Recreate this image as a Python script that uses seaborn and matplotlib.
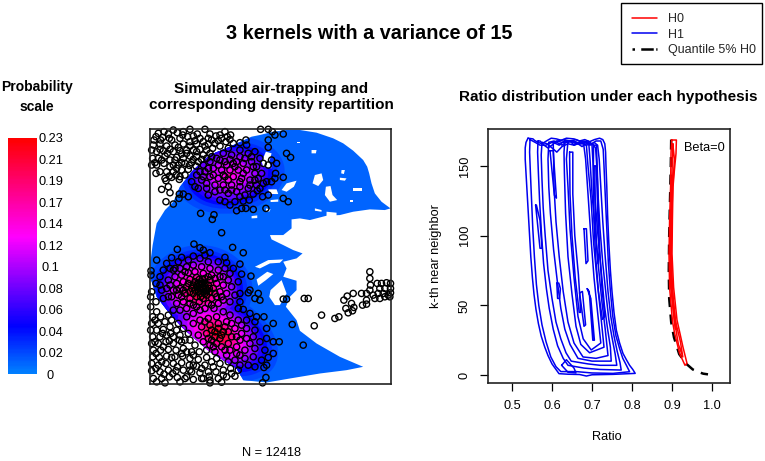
import numpy as np
import matplotlib
matplotlib.use("Agg")
import matplotlib.pyplot as plt
from matplotlib.colors import LinearSegmentedColormap
from matplotlib.lines import Line2D
from matplotlib.patches import Ellipse, Polygon, Rectangle
import seaborn as sns

# === Colour scale ===
scale_labels = ["0", "0.02", "0.04", "0.06", "0.08", "0.1", "0.12", "0.14", "0.17", "0.19", "0.21", "0.23"]
scale_max = 0.23

# === Middle panel in image units ===
lung_outline = [(335,50),(360,45),(400,35),(440,30),(480,30),(530,38),(580,55),(610,70),(640,92),(670,120),(682,140),(688,160),
                (695,190),(705,220),(725,245),(752,265),(735,270),(690,268),(640,275),(600,285),(560,287),(510,300),(480,295),
                (455,298),(455,325),(430,345),(390,345),(395,358),(430,375),(460,390),(488,400),(470,415),(430,425),
                (440,445),(430,470),(470,482),(470,510),(450,530),(438,560),(470,600),(480,632),(530,670),(600,710),
                (670,740),(620,750),(540,760),(450,775),(380,787),(310,780),(290,745),(210,695),(130,625),(85,575),
                (50,530),(30,470),(32,420),(38,375),(50,310),(75,270),(100,245),(120,200),(160,150),(210,105),(270,80)]
lung_holes = [
    [(378,95),(395,100),(388,125),(395,145),(370,140),(365,125)],
    [(515,90),(530,90),(528,100),(515,100)],
    [(525,165),(545,160),(550,180),(535,198),(518,190)],
    [(558,200),(572,198),(578,225),(592,240),(570,245),(555,225)],
    [(605,150),(615,150),(612,162),(604,160)],
    [(600,173),(620,175),(615,182),(600,180)],
    [(640,205),(665,205),(665,212),(640,212)],
    [(440,190),(470,182),(462,200),(440,215),(425,210)],
    [(385,208),(410,208),(415,222),(390,222)],
    [(392,240),(415,238),(415,245),(392,246)],
    [(560,275),(590,278),(590,290),(560,288)],
    [(335,288),(352,286),(352,294),(335,295)],
    [(378,265),(392,268),(388,275),(378,273)],
    [(345,440),(385,420),(430,418),(420,428),(390,430),(360,445)],
    [(350,478),(382,455),(400,462),(378,480),(355,497)],
    [(392,510),(425,480),(440,520),(420,555),(405,555),(388,530)],
    [(525,265),(545,270),(545,275),(525,272)],
    [(470,65),(480,65),(480,70),(470,70)],
    [(630,240),(640,240),(640,245),(630,245)],
]
level_values = [0.02, 0.03, 0.045, 0.06, 0.08, 0.1, 0.12, 0.14, 0.17, 0.2, 0.22]
top_kernel = dict(center=(270,165), axes=(165,115), angle=-8, radii=[1.0, 0.87, 0.78, 0.7, 0.62, 0.5, 0.36, 0.16, 0.04, 0, 0])
left_kernel = dict(center=(180,510), axes=(158,135), angle=0, radii=[1.0, 0.9, 0.82, 0.76, 0.7, 0.62, 0.55, 0.45, 0.33, 0.22, 0.12])
low_kernel = dict(center=(235,640), axes=(195,120), angle=30, radii=[1.0, 0.9, 0.82, 0.75, 0.68, 0.6, 0.52, 0.42, 0.3, 0.2, 0.1])

pts_top_white = [(55,40),(72,35),(48,50),(68,52),(85,42),(100,30),(112,38),(130,35),(150,28),(172,42),(195,28),(210,42),
    (228,48),(255,35),(272,45),(180,55),(160,48),(120,55),(95,60),(40,75),(60,72),(80,78),(35,90),(50,95),(105,75),(130,72),
    (150,65),(170,72),(190,65),(205,72),(225,70),(245,55),(258,65),(280,70),(300,68),(100,95),(120,92),(140,90),(160,90),
    (180,88),(200,90),(218,85),(240,78),(38,115),(55,115),(75,108),(90,120),(110,112),(130,115),(150,108),(170,110),(190,105),
    (35,135),(50,135),(72,130),(90,140),(115,135),(135,130),(155,128),(175,125),(60,155),(80,155),(100,155),(125,150),(145,148),
    (48,160),(75,175),(95,172),(120,170),(135,165),(78,182),(118,178),(65,208),(85,200),(90,218),(78,245),(100,252),(117,235),
    (118,222),(130,222),(145,230),(62,60),(88,55),(143,50),(205,55),(235,62),(115,82),(70,92),(90,88),(150,78),(195,78),
    (125,102),(170,95),(210,100),(65,120),(140,100),(100,135),(42,60),(60,88),(82,100),(45,128),(105,120),(125,128),(160,118),
    (185,118),(200,115),(168,138),(148,136),(108,165),(165,62),(215,60),(270,58),(128,45),(240,45),(262,50),(88,168),(110,145)]
pts_top_kernel = [(265,85),(300,90),(320,75),(250,100),(275,105),(300,110),(325,100),(345,95),(360,115),(230,115),(210,125),
    (255,125),(280,130),(310,130),(335,125),(350,140),(370,130),(190,135),(170,165),(195,155),(220,145),(245,150),(270,150),
    (295,150),(320,150),(345,160),(365,160),(385,135),(395,120),(410,130),(155,185),(165,200),(185,180),(210,170),(235,175),
    (255,170),(280,170),(305,175),(330,180),(355,175),(380,185),(405,175),(430,172),(200,205),(225,195),(250,195),(275,195),
    (300,200),(325,205),(350,195),(370,190),(175,205),(205,225),(240,240),(265,220),(290,215),(315,225),(340,222),(368,230),
    (385,225),(255,245),(285,245),(310,243),(270,255),(305,265),(290,272),(318,265),(340,268),(378,265),(430,235),(445,245),
    (182,280),(222,284),(217,298),(245,338),(440,100),(452,112),(385,60),(385,82),(405,45),(430,42),(362,28),(385,28),(397,35),
    (318,60),(240,120),(220,165),(260,135),(290,125),(310,160),(340,140),(200,190),(240,210),(265,180),(300,185),(330,195),
    (190,170),(285,140),(215,110),(250,165),(235,135),(270,118),(315,115),(335,110),(205,145),(180,155),(275,210),(255,210),
    (225,215),(300,230),(328,240),(352,212),(395,185),(407,160),(345,180),(360,205)]
pts_left_kernel = [(162,372),(180,383),(112,388),(190,390),(210,398),(278,382),(310,398),(195,405),(125,412),(95,413),(50,420),
    (160,408),(180,415),(255,412),(235,425),(260,428),(300,432),(80,430),(115,425),(145,420),(205,425),(33,452),(33,465),(48,490),
    (70,450),(90,445),(60,470),(280,445),(270,460),(305,462),(333,468),(295,485),(65,510),(60,495),(85,530),(70,535),(100,570),
    (100,450),(120,445),(140,440),(160,435),(185,440),(210,445),(235,450),(255,445),(105,470),(125,465),(145,458),(165,455),
    (190,460),(215,465),(240,470),(265,480),(85,480),(110,490),(130,485),(150,478),(170,472),(195,475),(210,480),(230,490),
    (250,495),(275,500),(80,505),(100,510),(120,505),(140,500),(160,495),(175,490),(185,485),(195,490),(205,495),(220,505),
    (240,515),(260,520),(285,525),(95,530),(115,525),(135,520),(150,515),(165,510),(178,505),(188,500),(198,505),(210,515),
    (230,530),(250,540),(270,545),(110,550),(130,545),(150,535),(170,530),(182,520),(192,515),(200,525),(215,535),(235,550),
    (120,570),(140,565),(160,555),(178,545),(190,535),(205,550),(222,565),(140,590),(160,580),(180,570),(195,565),(172,500),
    (182,510),(192,495),(187,478),(175,515),(200,512),(165,485),(182,530),(155,505),(205,470),(125,530),(90,495),(180,495),
    (190,508),(170,495),(195,520),(185,490),(160,520),(208,505),(178,478),(145,490),(130,510),(105,445),(135,455),(225,475),
    (250,470),(225,520),(245,530),(215,555),(110,510),(150,550),(170,560)]
pts_low_kernel = [(300,520),(330,510),(325,518),(345,535),(360,540),(355,520),(300,545),(295,565),(310,568),(330,580),(350,590),
    (320,600),(345,605),(400,610),(380,625),(345,630),(320,625),(295,600),(270,585),(250,575),(230,590),(205,595),(180,600),
    (160,610),(185,620),(210,615),(235,610),(260,605),(285,625),(305,640),(340,650),(380,655),(418,665),(360,665),(330,670),
    (300,660),(275,650),(250,635),(225,635),(200,640),(175,645),(190,665),(215,660),(240,655),(265,670),(290,680),(315,690),
    (345,685),(375,690),(400,700),(385,712),(365,720),(340,710),(315,715),(290,700),(270,690),(245,680),(220,680),(200,690),
    (225,695),(260,705),(285,720),(300,735),(325,735),(345,740),(372,742),(380,735),(378,772),(368,788),(490,675),(457,613),
    (400,665),(372,590),(215,630),(235,625),(225,650),(245,645),(205,655),(230,670),(255,620),(275,610),(305,615),(195,605),
    (265,635),(290,650),(320,655),(210,675),(255,690),(300,705)]
pts_low_white = [(35,515),(32,530),(48,545),(32,560),(50,575),(38,590),(62,590),(85,585),(35,610),(55,610),(75,605),(95,600),
    (115,610),(32,630),(50,630),(70,628),(90,620),(110,630),(130,625),(38,650),(60,650),(80,645),(100,650),(120,645),(145,640),
    (35,670),(55,670),(78,665),(100,670),(125,665),(150,660),(165,675),(40,690),(62,690),(85,688),(108,690),(130,685),(155,695),
    (178,695),(38,710),(58,712),(80,708),(105,710),(128,708),(150,715),(175,718),(200,712),(215,725),(35,730),(55,735),(78,730),
    (100,730),(125,728),(148,735),(170,738),(195,735),(220,740),(240,730),(265,725),(35,752),(60,755),(85,750),(108,752),(130,750),
    (155,755),(180,758),(205,755),(228,755),(250,750),(272,745),(295,750),(40,775),(65,775),(88,770),(112,772),(135,775),(160,778),
    (185,775),(210,780),(235,775),(260,770),(285,768),(50,785),(75,788),(120,785),(210,788),(245,786),(45,665),(70,680),(95,712),
    (140,695),(118,660),(160,735),(230,715),(190,775),(65,725),(92,640),(140,770),(275,760),(45,600),(68,640),(88,662),(48,700),
    (112,740),(185,745),(150,750),(72,762),(98,760),(208,768),(250,765),(125,700),(160,705),(48,745),(135,660)]
pts_right = [(690,455),(690,475),(692,495),(690,510),(712,490),(725,490),(740,488),(752,490),(720,505),(735,505),(752,505),
    (700,525),(715,520),(730,520),(745,525),(752,518),(705,535),(720,535),(735,530),(750,530),(665,520),(680,520),(640,520),
    (622,528),(612,540),(635,550),(680,540),(680,552),(668,555),(642,562),(638,572),(618,565),(625,578),(597,590),(585,595),
    (545,585),(523,617),(505,535),(493,535),(430,537),(440,537)]

# === Right panel, ratio against k ===
h1_contours = [
    [(.540,170),(.535,167),(.533,163),(.533,155),(.535,145),(.538,130),(.541,115),(.544,100),(.547,85),(.551,70),(.555,58),(.560,47),
     (.566,37),(.573,28),(.582,20),(.590,14),(.600,8),(.610,4),(.6175,1),(.64,.6),(.669,.4),(.686,-.7),(.700,.2),(.7525,.5),(.808,1.2),
     (.802,4),(.794,7),(.786,11),(.7775,15.5),(.769,23),(.761,32),(.755,45),(.750,60),(.746,75),(.742,95),(.739,115),(.737,135),(.735,150),
     (.734,160),(.732,166),(.727,169),(.719,170),(.706,169),(.694,167.5),(.682,169),(.669,168),(.655,169.5),(.636,170),(.623,168.5),
     (.611,169.5),(.598,170),(.586,168),(.575,166),(.565,167),(.556,168.5),(.5525,169.5),(.540,170)],
    [(.545,169),(.544,160),(.546,145),(.549,125),(.552,105),(.556,85),(.561,65),(.567,50),(.575,36),(.585,24),(.597,13),(.610,6),(.622,2.5),
     (.66,2.5),(.70,1.5),(.7525,1.2),(.794,2.4),(.786,7),(.777,12),(.769,19),(.760,28),(.752,42),(.746,60),(.741,80),(.737,105),(.733,130),
     (.730,150),(.728,162),(.722,168),(.71,168),(.70,166),(.69,168),(.675,167),(.66,169),(.645,168),(.63,169),(.615,168),(.60,167),(.585,165),
     (.57,165),(.558,167),(.545,169)],
    [(.565,168),(.564,160),(.566,145),(.569,125),(.574,100),(.579,80),(.586,62),(.593,48),(.603,33),(.614,21),(.628,12),(.640,7),(.68,5),
     (.72,4),(.773,3.6),(.770,9),(.763,17),(.755,28),(.747,42),(.740,60),(.733,85),(.727,110),(.722,135),(.718,155),(.714,165),(.705,167),
     (.695,165),(.685,167),(.670,166),(.655,168),(.640,167),(.625,167),(.612,168),(.600,165),(.590,163),(.580,165),(.570,168),(.565,168)],
    [(.575,167),(.573,158),(.575,140),(.578,120),(.583,100),(.590,75),(.600,55),(.610,38),(.622,26),(.635,16),(.648,10),(.69,8),(.72,7),
     (.762,7),(.758,15),(.750,27),(.742,40),(.735,58),(.727,80),(.720,105),(.715,130),(.712,150),(.709,163),(.70,166),(.685,165),(.67,167),
     (.655,165),(.64,166),(.625,164),(.612,160),(.600,163),(.588,166),(.575,167)],
    [(.592,167),(.590,155),(.592,135),(.596,116),(.604,90),(.613,68),(.622,48),(.632,33),(.645,22),(.665,12),(.70,10),(.748,10),(.746,20),
     (.739,33),(.731,50),(.723,75),(.715,100),(.708,125),(.703,150),(.700,165),(.69,167),(.675,164),(.66,167),(.64,168),(.625,165),(.612,167),
     (.605,168),(.592,167)],
    [(.603,167),(.604,155),(.605,135),(.610,110),(.618,85),(.628,60),(.640,38),(.655,23),(.6775,13),(.71,12),(.74,14),(.733,33),(.725,52),
     (.716,78),(.708,105),(.700,130),(.695,155),(.692,166),(.68,168),(.66,166),(.645,168),(.63,168),(.618,165),(.603,167)],
    [(.632,168),(.630,160),(.631,145),(.634,116),(.640,85),(.650,58),(.660,35),(.672,22),(.694,16),(.73,20),(.723,40),(.714,65),(.704,95),
     (.698,125),(.690,150),(.686,165),(.675,167),(.655,165),(.645,168),(.632,168)],
    [(.640,168),(.636,155),(.640,135),(.645,105),(.655,70),(.665,42),(.678,26),(.698,18),(.722,23),(.714,45),(.705,70),(.697,100),(.690,130),
     (.684,155),(.679,166),(.665,166),(.652,168),(.640,168)],
    [(.704,165),(.703,140),(.705,110),(.709,85),(.716,60),(.726,40),(.732,42),(.725,62),(.720,85),(.716,110),(.715,130),(.713,150),(.711,165),(.704,165)],
    [(.707,150),(.708,120),(.711,95),(.715,80),(.718,90),(.714,120),(.711,150),(.707,150)],
    [(.644,160),(.645,130),(.650,100),(.658,70),(.668,45),(.672,45),(.666,72),(.657,100),(.652,130),(.652,160),(.644,160)],
    [(.680,105),(.685,80),(.690,82),(.686,105),(.680,105)],
    [(.669,59),(.680,35),(.684,36),(.676,60),(.669,59)],
    [(.688,62),(.693,60),(.702,25),(.706,25),(.697,55),(.688,62)],
    [(.559,122),(.563,111),(.570,91),(.575,91),(.570,111),(.561,122),(.559,122)],
    [(.595,161),(.606,129),(.611,127),(.603,161),(.595,161)],
    [(.612,66),(.614,55),(.619,55),(.621,62),(.617,66),(.612,66)],
    [(.624,7),(.636,11),(.655,5),(.66,1.5),(.64,2),(.624,7)],
]
h0_contours = [
    [(.899,168.7),(.8975,159),(.8965,135),(.894,111),(.8925,87),(.894,63),(.901,39),(.9065,30),(.919,15.5),(.9325,7),(.9375,8.4),(.9275,20),
     (.9125,39.5),(.904,63),(.90,87),(.901,111),(.9025,135),(.906,147),(.91,159),(.911,168.7),(.899,168.7)],
    [(.902,166),(.901,155),(.899,135),(.896,111),(.895,87),(.897,63),(.906,39),(.916,22),(.927,13),(.921,24),(.908,39.5),(.900,63),(.898,87),
     (.899,111),(.902,135),(.906,155),(.902,166)],
    [(.900,120),(.896,95),(.897,70),(.902,50),(.908,33),(.911,33),(.903,55),(.899,75),(.898,95),(.900,120)],
]
quantile_ratio = [.898, .897, .895, .893, .892, .893, .898, .905, .918, .936, .952, .968, .978, .99]
quantile_k = [169, 150, 125, 100, 75, 55, 38, 27, 15, 8, 4, 2, 1, 0.5]

sns.set_theme(style="white")
plt.rcParams['font.family'] = ['Liberation Sans', 'DejaVu Sans']

W, H = 765, 461
fig = plt.figure(figsize=(W / 100, H / 100), dpi=100, facecolor="white")

def px_axes(left, top, right, bottom):
    return fig.add_axes([left / W, 1 - bottom / H, (right - left) / W, (bottom - top) / H])

prob_cmap = LinearSegmentedColormap.from_list(
    "prob", [(0, "#0080ff"), (0.2, "#0000ff"), (0.58, "#ff00ff"), (1, "#ff0000")])

# === Colour bar ===
ax_scale = px_axes(8, 138, 37, 374)
ramp = np.linspace(scale_max, 0, 200).reshape(-1, 1)
sns.heatmap(ramp, ax=ax_scale, cmap=prob_cmap, cbar=False, xticklabels=False, vmin=0, vmax=scale_max)
ax_scale.set_yticks(np.linspace(200, 0, len(scale_labels)))
ax_scale.set_yticklabels(scale_labels, rotation=0, fontsize=9.2, color="black")
ax_scale.tick_params(left=False, right=False, labelleft=False, labelright=True, pad=9.7, length=0)
for lab in ax_scale.get_yticklabels():
    lab.set_ha("center")

# === Density and points ===
ax_map = px_axes(150, 129, 391.5, 383.5)
ax_map.set_xlim(30, 755)
ax_map.set_ylim(790, 27)
mask = Polygon(lung_outline, closed=True, facecolor=prob_cmap(0.045), edgecolor="none", zorder=1)
ax_map.add_patch(mask)
for i, value in enumerate(level_values):
    for kernel in (top_kernel, left_kernel, low_kernel):
        scale = kernel["radii"][i]
        if scale == 0:
            continue
        ell = Ellipse(kernel["center"], 2 * kernel["axes"][0] * scale, 2 * kernel["axes"][1] * scale,
                      angle=kernel["angle"], facecolor=prob_cmap(value / scale_max), edgecolor="none", zorder=2)
        ax_map.add_patch(ell)
        ell.set_clip_path(mask)
for hole in lung_holes:
    ax_map.add_patch(Polygon(hole, closed=True, facecolor="white", edgecolor="none", zorder=3))

all_points = np.array(pts_top_white + pts_top_kernel + pts_left_kernel + pts_low_kernel + pts_low_white + pts_right)
sns.scatterplot(x=all_points[:, 0], y=all_points[:, 1], ax=ax_map, color="none", edgecolor="black",
                linewidth=1.0, s=20, zorder=4, clip_on=False, legend=False)
ax_map.set_xticks([])
ax_map.set_yticks([])
for sp in ax_map.spines.values():
    sp.set_color("#222222")
    sp.set_linewidth(1.2)
    sp.set_visible(True)
    sp.set_zorder(5)

# === Ratio contours ===
ax_ratio = px_axes(488, 129, 730, 383)
for loop in h1_contours:
    r, k = zip(*loop)
    sns.lineplot(x=r, y=k, ax=ax_ratio, color="#0000f0", linewidth=1.1, sort=False, estimator=None)
sns.lineplot(x=quantile_ratio, y=quantile_k, ax=ax_ratio, color="black", linewidth=1.8, sort=False, estimator=None,
             linestyle=(0, (4, 3)))
for loop in h0_contours:
    r, k = zip(*loop)
    sns.lineplot(x=r, y=k, ax=ax_ratio, color="red", linewidth=1.1, sort=False, estimator=None)
ax_ratio.set_xlim(0.44, 1.045)
ax_ratio.set_ylim(-5.7, 176.6)
ax_ratio.set_xticks([0.5, 0.6, 0.7, 0.8, 0.9, 1.0], ["0.5", "0.6", "0.7", "0.8", "0.9", "1.0"])
ax_ratio.set_yticks([0, 50, 100, 150], ["0", "50", "100", "150"], rotation=90, va="center")
ax_ratio.tick_params(bottom=True, left=True, length=5.5, width=0.9, labelsize=9.2, color="black", labelcolor="black", pad=7)
for sp in ax_ratio.spines.values():
    sp.set_color("#222222")
    sp.set_linewidth(1.2)
ax_ratio.text(0.98, 163, "Beta=0", fontsize=9.2, ha="center", va="center", color="black")

# === Text ===
def px_text(x, y, s, **kw):
    fig.text(x / W, 1 - y / H, s, ha="center", va="center", color="black", **kw)

px_text(369, 33, "3 kernels with a variance of 15", fontsize=14.3, fontweight="bold")
px_text(37, 97, "Probability\nscale", fontsize=10, fontweight="bold", linespacing=1.5)
px_text(271, 97, "Simulated air-trapping and\ncorresponding density repartition", fontsize=11, fontweight="bold", linespacing=1.15)
px_text(608, 97, "Ratio distribution under each hypothesis", fontsize=11, fontweight="bold")
px_text(271, 453, "N = 12418", fontsize=9.2)
px_text(607, 437, "Ratio", fontsize=9.2)
px_text(436, 256, "k-th near neighbor", fontsize=9.2, rotation=90)

# === Legend ===
fig.add_artist(Rectangle((620.5 / W, 1 - 64.5 / H), 141.5 / W, 61.5 / H, transform=fig.transFigure,
                         facecolor="white", edgecolor="black", linewidth=1.0))
handles = [Line2D([], [], color="red", lw=1.1), Line2D([], [], color="#0000f0", lw=1.1),
           Line2D([], [], color="black", lw=1.8, linestyle=(0, (1, 2.5, 5, 1)))]
fig.legend(handles, ["H0", "H1", "Quantile 5% H0"], loc="upper left", bbox_to_anchor=(632 / W, 1 - 13 / H),
           fontsize=9, frameon=False, borderaxespad=0, borderpad=0,
           handlelength=2.0, handletextpad=0.88, labelspacing=0.3)

fig.savefig("out.png", dpi=100)
